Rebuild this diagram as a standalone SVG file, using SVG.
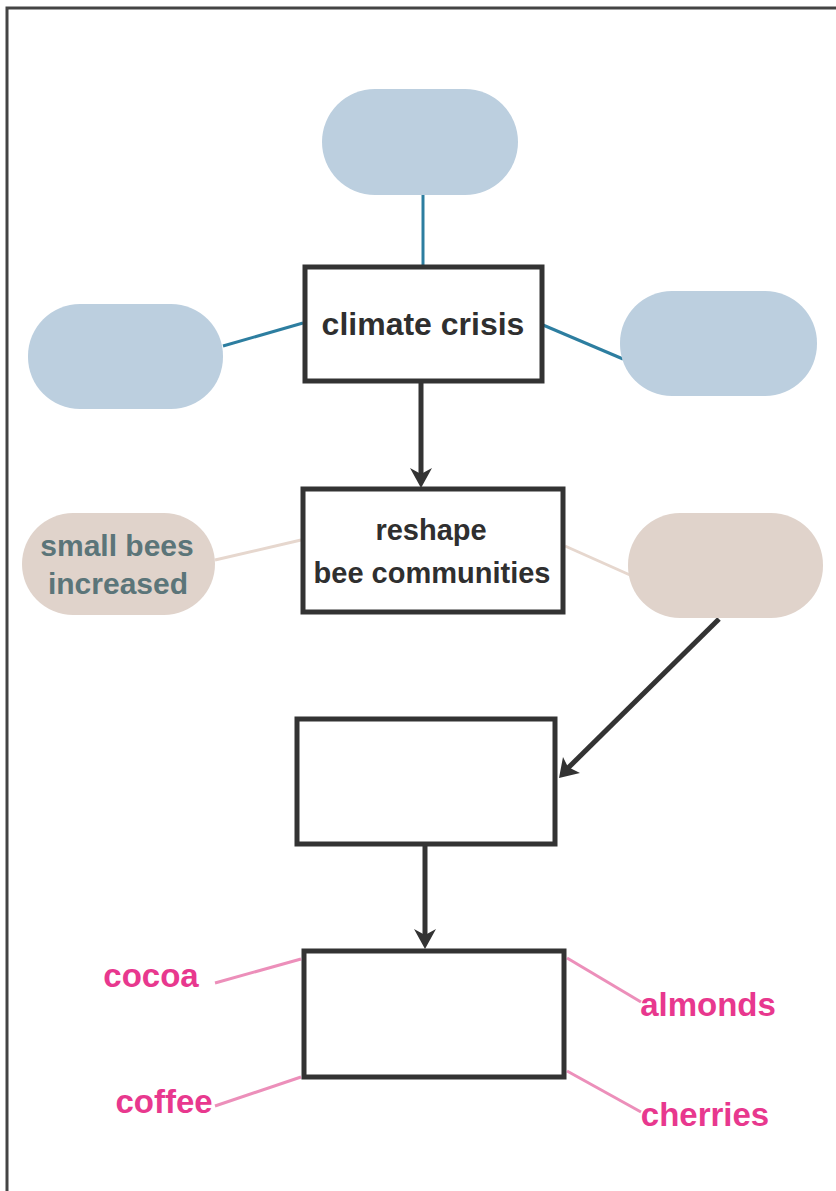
<svg xmlns="http://www.w3.org/2000/svg" width="836" height="1191" viewBox="0 0 836 1191">
<defs>
<style>
.box{fill:#fff;stroke:#333;stroke-width:5}
.blue{fill:#bccfdf}
.tan{fill:#e0d3cb}
.bl{stroke:#2d7ea0;stroke-width:3;fill:none}
.tl{stroke:#e6d7ce;stroke-width:3;fill:none}
.pl{stroke:#ec8fba;stroke-width:3;fill:none}
.arr{stroke:#333;stroke-width:5;fill:none}
.head{fill:#333}
.t{font-family:"Liberation Sans",Arial,sans-serif;font-weight:bold;text-anchor:middle}
.dark{fill:#2f2f2f}
.slate{fill:#5b7579}
.pink{fill:#e8388e}
</style>
</defs>
<rect x="0" y="0" width="836" height="1191" fill="#fff"/>
<path d="M7 1191 V8 H836" fill="none" stroke="#444" stroke-width="3"/>
<g id="connectors">
<line class="bl" x1="423" y1="195" x2="423" y2="266"/>
<line class="bl" x1="223" y1="346" x2="303" y2="323"/>
<line class="bl" x1="543" y1="325" x2="623" y2="359"/>
<line class="tl" x1="215" y1="560" x2="301" y2="540"/>
<line class="tl" x1="565" y1="546" x2="630" y2="575"/>
<line class="pl" x1="215" y1="983" x2="301" y2="959"/>
<line class="pl" x1="215" y1="1106" x2="301" y2="1077"/>
<line class="pl" x1="567" y1="958" x2="641" y2="1002"/>
<line class="pl" x1="567" y1="1071" x2="641" y2="1112"/>
<line class="arr" x1="421" y1="383" x2="421" y2="480"/>
<path class="head" d="M421 488 L410 468 L421 474 L432 468 Z"/>
<line class="arr" x1="719" y1="619" x2="566" y2="770"/>
<path class="head" d="M559 778 L563 757 L568 767 L580 773 Z"/>
<line class="arr" x1="425" y1="846" x2="425" y2="941"/>
<path class="head" d="M425 949 L414 929 L425 935 L436 929 Z"/>
</g>
<g id="n-top"><rect class="blue" x="322" y="89" width="196" height="106" rx="53"/></g>
<g id="n-left"><rect class="blue" x="28" y="304" width="195" height="105" rx="52"/></g>
<g id="n-right"><rect class="blue" x="620" y="291" width="197" height="105" rx="52"/></g>
<g id="n-climate"><rect class="box" x="305" y="267" width="237" height="114"/>
<text class="t dark" x="423" y="335" font-size="32">climate crisis</text></g>
<g id="n-reshape"><rect class="box" x="303" y="489" width="260" height="123"/>
<text class="t dark" x="431" y="540" font-size="29">reshape</text>
<text class="t dark" x="432" y="583" font-size="29">bee communities</text></g>
<g id="n-small"><rect class="tan" x="22" y="513" width="193" height="102" rx="51"/>
<text class="t slate" x="117" y="556" font-size="30">small bees</text>
<text class="t slate" x="118" y="594" font-size="30">increased</text></g>
<g id="n-tanright"><rect class="tan" x="628" y="513" width="195" height="105" rx="52"/></g>
<g id="n-box3"><rect class="box" x="297" y="719" width="258" height="125"/></g>
<g id="n-box4"><rect class="box" x="304" y="951" width="260" height="126"/></g>
<g id="labels">
<text class="t pink" x="151" y="987" font-size="33">cocoa</text>
<text class="t pink" x="164" y="1113" font-size="33">coffee</text>
<text class="t pink" x="708" y="1016" font-size="33">almonds</text>
<text class="t pink" x="705" y="1126" font-size="33">cherries</text>
</g>
</svg>
